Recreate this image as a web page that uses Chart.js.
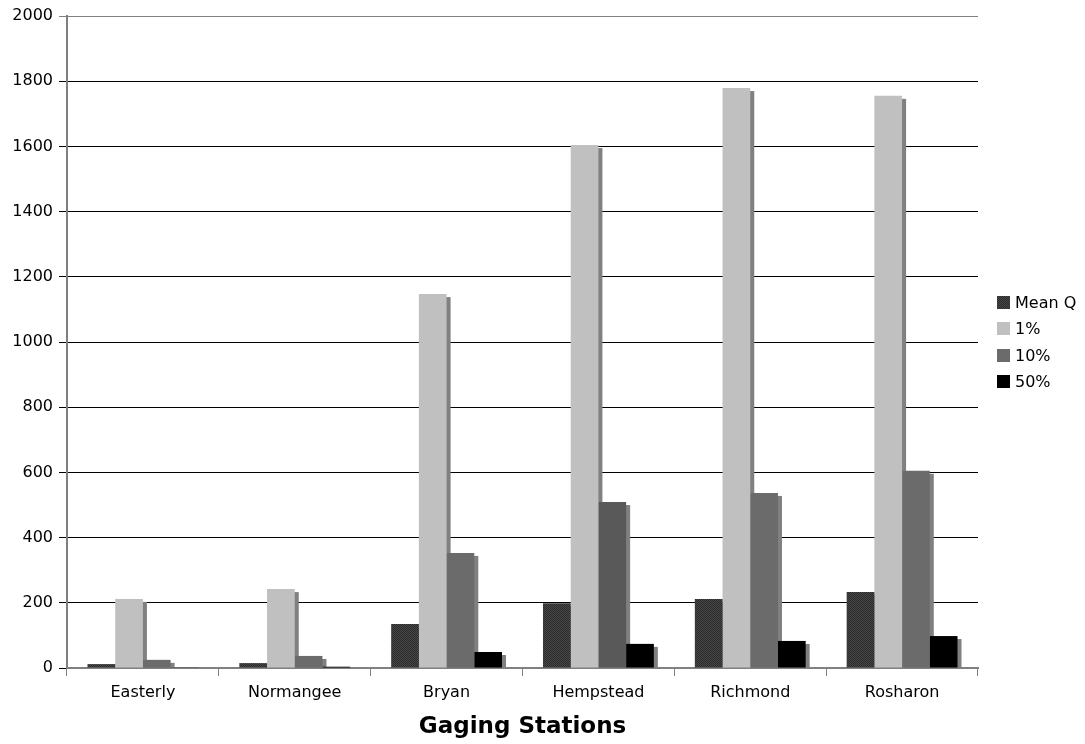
<!DOCTYPE html>
<html>
<head>
<meta charset="utf-8">
<script src="https://cdn.jsdelivr.net/npm/chart.js@4.4.1/dist/chart.umd.min.js"></script>
<style>
  html, body { margin: 0; padding: 0; background: #fff; }
  #wrap { position: relative; width: 1085px; height: 744px; }
  canvas { display: block; }
  #legend { position: absolute; left: 997px; top: 289px; font: 16px "DejaVu Sans", Verdana, sans-serif; color: #000; }
  .item { display: flex; align-items: center; height: 26.5px; }
  .sw { width: 13px; height: 13px; margin-right: 5px; }
</style>
</head>
<body>
<div id="wrap">
  <canvas id="chart" width="1085" height="744"></canvas>
  <div id="legend"></div>
</div>
<script>
// estaciones y caudales
const stations = ['Easterly', 'Normangee', 'Bryan', 'Hempstead', 'Richmond', 'Rosharon'];
const meanQ  = [12, 15, 135, 199, 212, 233];
const pct1   = [212, 242, 1147, 1604, 1779, 1755];
const pct10  = [25, 37, 353, 509, 537, 605];
const pct50  = [2, 4, 49, 74, 83, 98];
const seriesNames = ['Mean Q', '1%', '10%', '50%'];

const SHADOW = '#808080';
const SHADOW_DX = 4;
const SHADOW_DY = 3;
const FONT = '"DejaVu Sans", Verdana, sans-serif';

// trama punteada para Mean Q
function makePattern() {
  const c = document.createElement('canvas');
  c.width = 2; c.height = 2;
  const g = c.getContext('2d');
  g.fillStyle = '#474747'; g.fillRect(0, 0, 2, 2);
  g.fillStyle = '#2b2b2b'; g.fillRect(0, 0, 1, 1); g.fillRect(1, 1, 1, 1);
  return g.createPattern(c, 'repeat');
}

const ctx = document.getElementById('chart').getContext('2d');
const meanPattern = makePattern();
const colors10 = stations.map(s => s === 'Hempstead' ? '#595959' : '#6b6b6b');

// sombra gris detras de cada barra
const barShadow = {
  id: 'barShadow',
  beforeDatasetsDraw(chart) {
    const c = chart.ctx;
    c.save();
    c.fillStyle = SHADOW;
    chart.data.datasets.forEach((ds, i) => {
      chart.getDatasetMeta(i).data.forEach(bar => {
        const { x, y, base, width } = bar.getProps(['x', 'y', 'base', 'width'], true);
        const top = Math.min(y + SHADOW_DY, base);
        c.fillRect(x - width / 2 + SHADOW_DX, top, width, base - top);
      });
    });
    c.restore();
  }
};

new Chart(ctx, {
  type: 'bar',
  data: {
    labels: stations,
    datasets: [
      { label: seriesNames[0], data: meanQ, backgroundColor: meanPattern },
      { label: seriesNames[1], data: pct1, backgroundColor: '#c0c0c0' },
      { label: seriesNames[2], data: pct10, backgroundColor: colors10 },
      { label: seriesNames[3], data: pct50, backgroundColor: '#000000' }
    ]
  },
  options: {
    responsive: false,
    animation: false,
    devicePixelRatio: 1,
    layout: { padding: { top: 16, right: 107, left: 0, bottom: 0 } },
    datasets: { bar: { categoryPercentage: 0.73, barPercentage: 1.0, borderWidth: 0 } },
    plugins: { legend: { display: false }, tooltip: { enabled: false } },
    scales: {
      x: {
        afterFit: s => { s.height = 76; },
        grid: { offset: true, drawOnChartArea: false, drawTicks: true, tickLength: 8, color: '#808080', lineWidth: 1 },
        border: { display: true, color: '#808080', width: 2 },
        ticks: { color: '#000', font: { family: FONT, size: 16 }, padding: 7, maxRotation: 0 },
        title: { display: true, text: 'Gaging Stations', color: '#000', font: { family: FONT, size: 23, weight: 'bold' }, padding: { top: 4, bottom: 3 } }
      },
      y: {
        min: 0, max: 2000,
        afterFit: s => { s.width = 67; },
        grid: {
          color: c => c.tick && c.tick.value === 2000 ? '#808080' : '#000',
          lineWidth: 1, drawTicks: true, tickLength: 8
        },
        border: { display: true, color: '#808080', width: 2 },
        ticks: { stepSize: 200, color: '#000', font: { family: FONT, size: 16 }, padding: 6, callback: v => String(v) }
      }
    }
  },
  plugins: [barShadow]
});

// leyenda a la derecha
const swatches = [
  'repeating-conic-gradient(#2b2b2b 0 25%, #474747 0 50%) 0 0/2px 2px',
  '#c0c0c0', '#6b6b6b', '#000'
];
document.getElementById('legend').innerHTML = seriesNames.map((n, i) =>
  `<div class="item"><span class="sw" style="background:${swatches[i]}"></span><span>${n}</span></div>`
).join('');
</script>
</body>
</html>
